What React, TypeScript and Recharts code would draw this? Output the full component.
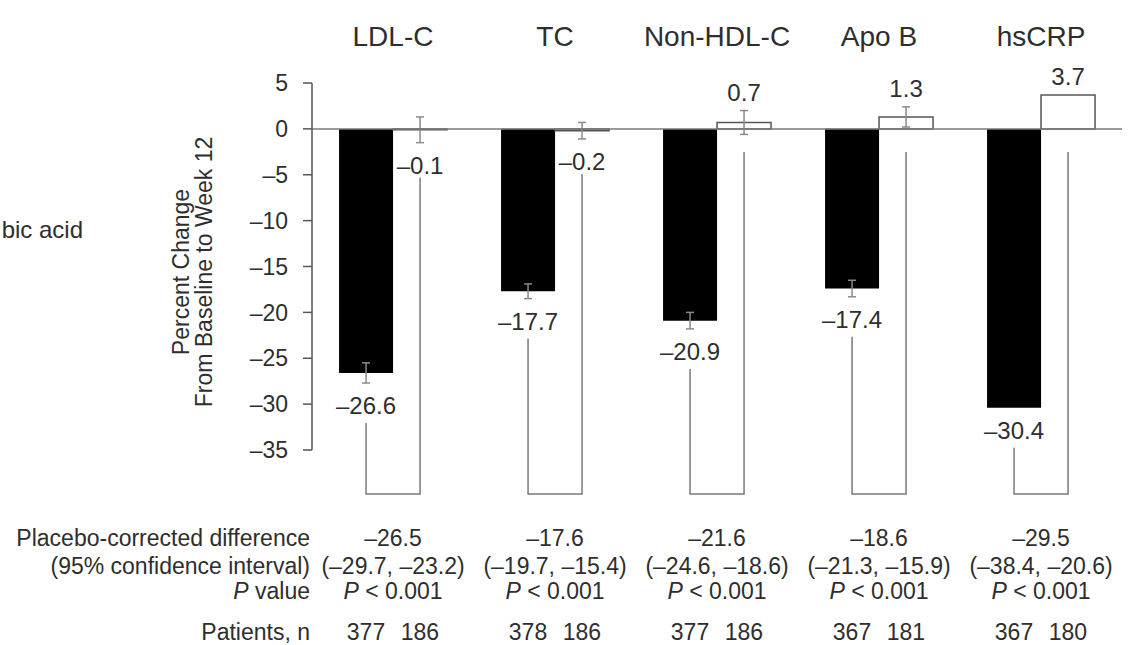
import React from 'react';
import { BarChart, Bar, XAxis, YAxis, ReferenceLine, ErrorBar, LabelList } from 'recharts';

const categories = ['LDL-C', 'TC', 'Non-HDL-C', 'Apo B', 'hsCRP'];
const bempedoic = [-26.6, -17.7, -20.9, -17.4, -30.4];
const bempedoicErr = [1.1, 0.8, 0.9, 0.9, null];
const placebo = [-0.1, -0.2, 0.7, 1.3, 3.7];
const placeboErr = [1.4, 0.9, 1.3, 1.1, null];
const yTicks = [5, 0, -5, -10, -15, -20, -25, -30, -35];

const diffValues = ['–26.5', '–17.6', '–21.6', '–18.6', '–29.5'];
const diffCI = ['(–29.7, –23.2)', '(–19.7, –15.4)', '(–24.6, –18.6)', '(–21.3, –15.9)', '(–38.4, –20.6)'];
const pValues = ['< 0.001', '< 0.001', '< 0.001', '< 0.001', '< 0.001'];
const nBempedoic = [377, 378, 377, 367, 367];
const nPlacebo = [186, 186, 186, 181, 180];

const data = categories.map((name, i) => ({
  name,
  bempedoic: bempedoic[i],
  bempedoicErr: bempedoicErr[i],
  placebo: placebo[i],
  placeboErr: placeboErr[i],
}));

// layout
const W = 1132;
const H = 645;
const PLOT_LEFT = 312;
const PLOT_RIGHT = 1122;
const PLOT_TOP = 83;
const PLOT_BOTTOM = 450;
const Y_MIN = -35;
const Y_MAX = 5;
const BRACKET_LEVEL = -39.8; // the comparison brackets sit just under the axis
const CAT_GAP = 0.167;
const BAND = (PLOT_RIGHT - PLOT_LEFT) / categories.length;
const BAR_W = (BAND * (1 - 2 * CAT_GAP)) / 2;
const PX = (PLOT_BOTTOM - PLOT_TOP) / (Y_MAX - Y_MIN);
const yPx = (v: number) => PLOT_TOP + (Y_MAX - v) * PX;

const FONT = '"Liberation Sans", Arial, Helvetica, sans-serif';
const TEXT = '#2e2e2e';
const LINE = '#7a7a7a';

const fmt = (v: number) => (v < 0 ? '–' + Math.abs(v).toFixed(1) : v.toFixed(1));
const fmtTick = (v: number) => (v < 0 ? '–' + Math.abs(v) : String(v));

const labelBase = (v: number, e: number | null) =>
  v < 0 ? yPx(v - (e ?? 0)) + 31 : yPx(v + (e ?? 0)) - 10;

const idxOf = (p: any) =>
  p.index ?? Math.floor((p.x - PLOT_LEFT) / BAND);

const renderBlackLabel = (props: any) => {
  const { x, width } = props;
  const i = idxOf(props);
  const v = bempedoic[i];
  const cx = x + width / 2;
  const wx = cx + width;
  const base = labelBase(v, bempedoicErr[i]);
  const pv = placebo[i];
  const whiteTop = pv < 0 ? labelBase(pv, placeboErr[i]) + 4 : yPx(0) + 23;
  const by = yPx(BRACKET_LEVEL);
  return (
    <g>
      <text x={cx} y={base} textAnchor="middle" fontSize={24} fill={TEXT}>
        {fmt(v)}
      </text>
      <polyline
        points={`${cx},${base + 9} ${cx},${by} ${wx},${by} ${wx},${whiteTop}`}
        fill="none"
        stroke={LINE}
        strokeWidth={1.5}
      />
    </g>
  );
};

const renderWhiteLabel = (props: any) => {
  const { x, width } = props;
  const i = idxOf(props);
  const v = placebo[i];
  return (
    <text x={x + width / 2} y={labelBase(v, placeboErr[i])} textAnchor="middle" fontSize={24} fill={TEXT}>
      {fmt(v)}
    </text>
  );
};

const colX = (i: number) => PLOT_LEFT + BAND * (i + 0.5);

const rowLabel: React.CSSProperties = {
  position: 'absolute',
  right: W - 310,
  whiteSpace: 'nowrap',
  textAlign: 'right',
};

const cell = (x: number, y: number, content: React.ReactNode, key: string) => (
  <div
    key={key}
    style={{ position: 'absolute', left: x - 100, width: 200, top: y - 13, textAlign: 'center', whiteSpace: 'nowrap' }}
  >
    {content}
  </div>
);

const rowsY = [538, 566, 591, 632];

export default function App() {
  return (
    <div
      style={{
        position: 'absolute',
        left: 0,
        top: 0,
        width: W,
        height: H,
        overflow: 'hidden',
        background: '#fff',
        fontFamily: FONT,
        color: TEXT,
      }}
    >
      <BarChart
        width={W}
        height={H}
        data={data}
        margin={{ top: 0, right: W - PLOT_RIGHT, bottom: H - PLOT_BOTTOM, left: 0 }}
        barCategoryGap={`${CAT_GAP * 100}%`}
        barGap={0}
      >
        <XAxis
          dataKey="name"
          orientation="top"
          height={PLOT_TOP}
          axisLine={false}
          tickLine={false}
          tickSize={0}
          tickMargin={37}
          interval={0}
          tick={{ fill: TEXT, fontSize: 28, fontFamily: FONT }}
        />
        <YAxis
          width={PLOT_LEFT}
          domain={[Y_MIN, Y_MAX]}
          ticks={yTicks}
          interval={0}
          tickFormatter={fmtTick}
          tickSize={9}
          tickMargin={15}
          axisLine={{ stroke: '#555', strokeWidth: 1.5 }}
          tickLine={{ stroke: '#555', strokeWidth: 1.5 }}
          tick={{ fill: TEXT, fontSize: 23, fontFamily: FONT }}
        />
        <Bar dataKey="bempedoic" fill="#000" isAnimationActive={false}>
          <ErrorBar dataKey="bempedoicErr" width={4} stroke="#8a8a8a" strokeWidth={1.5} />
          <LabelList dataKey="bempedoic" content={renderBlackLabel} />
        </Bar>
        <Bar dataKey="placebo" fill="#fff" stroke="#555" strokeWidth={1.5} isAnimationActive={false}>
          <ErrorBar dataKey="placeboErr" width={4} stroke="#8a8a8a" strokeWidth={1.5} />
          <LabelList dataKey="placebo" content={renderWhiteLabel} />
        </Bar>
        <ReferenceLine y={0} stroke={LINE} strokeWidth={1.5} />
      </BarChart>

      <div
        style={{
          position: 'absolute',
          left: 193 - 170,
          top: 272 - 23,
          width: 340,
          height: 46,
          lineHeight: '23px',
          fontSize: 23,
          textAlign: 'center',
          transform: 'rotate(-90deg)',
        }}
      >
        Percent Change
        <br />
        From Baseline to Week 12
      </div>

      {/* legend text, cropped at the left edge in the source */}
      <div style={{ position: 'absolute', right: W - 83, top: 230 - 14, fontSize: 24, whiteSpace: 'nowrap' }}>
        bic acid
      </div>

      <div style={{ fontSize: 23, lineHeight: '26px' }}>
        <div style={{ ...rowLabel, top: rowsY[0] - 13 }}>Placebo-corrected difference</div>
        <div style={{ ...rowLabel, top: rowsY[1] - 13 }}>(95% confidence interval)</div>
        <div style={{ ...rowLabel, top: rowsY[2] - 13 }}>
          <i>P</i> value
        </div>
        <div style={{ ...rowLabel, top: rowsY[3] - 13 }}>Patients, n</div>
        {categories.map((c, i) => cell(colX(i), rowsY[0], diffValues[i], 'd' + c))}
        {categories.map((c, i) => cell(colX(i), rowsY[1], diffCI[i], 'ci' + c))}
        {categories.map((c, i) =>
          cell(
            colX(i),
            rowsY[2],
            <>
              <i>P</i> {pValues[i]}
            </>,
            'p' + c,
          ),
        )}
        {categories.map((c, i) => cell(colX(i) - BAR_W / 2, rowsY[3], nBempedoic[i], 'nb' + c))}
        {categories.map((c, i) => cell(colX(i) + BAR_W / 2, rowsY[3], nPlacebo[i], 'np' + c))}
      </div>
    </div>
  );
}
